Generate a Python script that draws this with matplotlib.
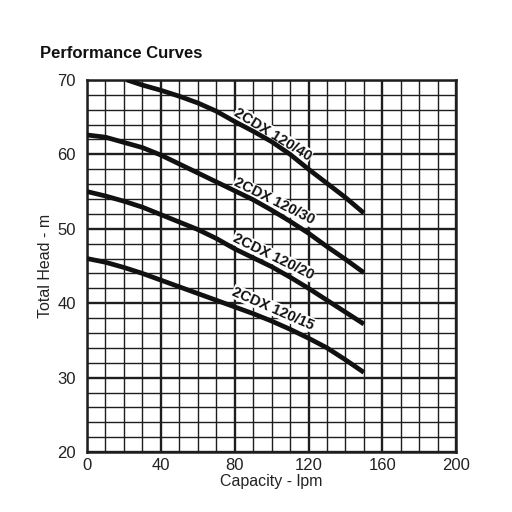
import matplotlib
matplotlib.use("Agg")
import matplotlib.pyplot as plt

# capacity (lpm) / head (m)
cap = [0, 10, 20, 30, 40, 50, 60, 70, 80, 90, 100, 110, 120, 130, 140, 150]
x_40 = [21.5, 30, 40, 50, 60, 70, 80, 90, 100, 110, 120, 130, 140, 150]
y_40 = [70.0, 69.3, 68.6, 67.8, 66.9, 65.8, 64.4, 63.1, 61.7, 60.0, 58.0, 56.1, 54.2, 52.1]
y_30 = [62.6, 62.3, 61.6, 60.9, 59.9, 58.7, 57.5, 56.3, 55.1, 53.9, 52.5, 51.0, 49.4, 47.6, 45.9, 44.1]
y_20 = [55.0, 54.4, 53.7, 52.9, 51.9, 50.9, 49.9, 48.7, 47.3, 46.1, 44.9, 43.5, 42.0, 40.4, 38.8, 37.2]
y_15 = [46.0, 45.5, 44.8, 44.0, 43.1, 42.2, 41.3, 40.4, 39.5, 38.6, 37.6, 36.5, 35.3, 34.0, 32.4, 30.7]

curve_names = ["2CDX 120/40", "2CDX 120/30", "2CDX 120/20", "2CDX 120/15"]
label_pos = [(100.8, 62.7), (101.2, 53.7), (100.8, 46.3), (100.8, 39.3)]
label_rot = [-31.5, -26.5, -26, -23.5]

x_ticks = [0, 40, 80, 120, 160, 200]
y_ticks = [20, 30, 40, 50, 60, 70]


def main():
    plt.rcParams['font.family'] = ['Liberation Sans', 'DejaVu Sans']
    fig = plt.figure(figsize=(5.12, 5.12), dpi=100)
    ax = fig.add_axes([0.170, 0.117, 0.721, 0.727])

    # grid: thin every 10 lpm / 2 m, heavy every 40 lpm / 10 m
    for xv in range(0, 201, 10):
        lw = 1.7 if xv % 40 == 0 else 1.0
        ax.axvline(xv, color='#1e1e1e', lw=lw, zorder=1)
    for yv in range(20, 71, 2):
        lw = 1.7 if yv % 10 == 0 else 1.0
        ax.axhline(yv, color='#1e1e1e', lw=lw, zorder=1)

    series = [(x_40, y_40), (cap, y_30), (cap, y_20), (cap, y_15)]
    for (xs, ys) in series:
        ax.plot(xs, ys, color='#111111', lw=3.4, solid_capstyle='butt',
                solid_joinstyle='round', zorder=3)

    # labels sit under the curves so the line stays unbroken
    for name, (lx, ly), rot in zip(curve_names, label_pos, label_rot):
        ax.text(lx, ly, name, rotation=rot, rotation_mode='anchor',
                ha='center', va='center', fontsize=10.5, fontweight='bold',
                color='#111111', zorder=2,
                bbox=dict(facecolor='white', edgecolor='none', pad=0.2))

    ax.set_xlim(0, 200)
    ax.set_ylim(20, 70)
    ax.set_xticks(x_ticks)
    ax.set_yticks(y_ticks)
    ax.tick_params(length=0, labelsize=12, colors='#222222')
    ax.tick_params(axis='x', pad=4)
    ax.tick_params(axis='y', pad=8)
    for s in ax.spines.values():
        s.set_linewidth(1.8)
        s.set_color('#1e1e1e')

    ax.set_xlabel('Capacity - lpm', fontsize=11.5, color='#222222', labelpad=1)
    ax.set_ylabel('Total Head - m', fontsize=11.5, color='#222222', labelpad=3)
    fig.text(0.078, 0.896, 'Performance Curves', fontsize=12,
             fontweight='bold', color='#111111', ha='left', va='center')

    fig.savefig('out.png', dpi=100, facecolor='white')


if __name__ == "__main__":
    main()
